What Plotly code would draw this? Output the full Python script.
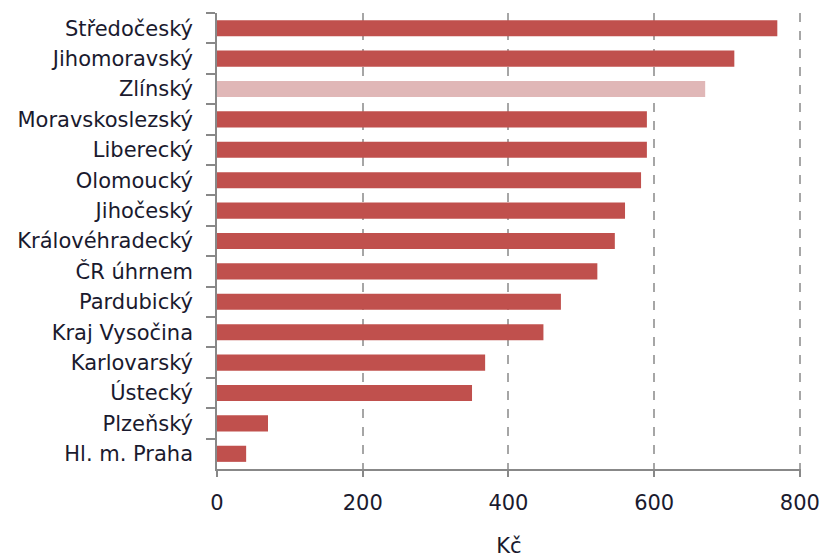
import plotly.graph_objects as go

regions = ["Středočeský", "Jihomoravský", "Zlínský", "Moravskoslezský", "Liberecký",
           "Olomoucký", "Jihočeský", "Královéhradecký", "ČR úhrnem", "Pardubický",
           "Kraj Vysočina", "Karlovarský", "Ústecký", "Plzeňský", "Hl. m. Praha"]
values = [769, 710, 670, 590, 590, 582, 560, 546, 522, 472, 448, 368, 350, 70, 40]
highlight = "Zlínský"
x_ticks = [0, 200, 400, 600, 800]

colors = ["#e0b7b7" if r == highlight else "#c0504d" for r in regions]

fig = go.Figure(go.Bar(
    x=values, y=regions, orientation="h",
    marker=dict(color=colors, line=dict(width=0)),
    hoverinfo="x+y",
))

font_family = "DejaVu Sans"
fig.update_layout(
    width=820, height=558,
    margin=dict(l=217, r=19, t=13, b=89),
    paper_bgcolor="white", plot_bgcolor="white",
    bargap=0.47,
    showlegend=False,
    font=dict(family=font_family, size=21, color="#1a1a2e"),
)
fig.update_xaxes(
    range=[0, 801.5], tickvals=x_ticks, ticktext=[str(v) for v in x_ticks],
    showgrid=True, gridcolor="#a6a6a6", griddash="dash", gridwidth=1.5,
    showline=True, linecolor="#888888", linewidth=1.5,
    ticks="outside", ticklen=6, tickcolor="#888888", tickwidth=1.5,
    ticklabelstandoff=8,
    zeroline=False, automargin=False,
    title=dict(text="Kč", standoff=30, font=dict(size=21)),
    tickfont=dict(size=21),
)
fig.update_yaxes(
    autorange="reversed",
    showline=True, linecolor="#888888", linewidth=1.5,
    ticks="outside", ticklen=9, tickcolor="#888888", tickwidth=1.5,
    tickson="boundaries",
    ticklabelstandoff=18, automargin=False,
    showgrid=False,
    tickfont=dict(size=21),
)

fig.write_html("out.html")
